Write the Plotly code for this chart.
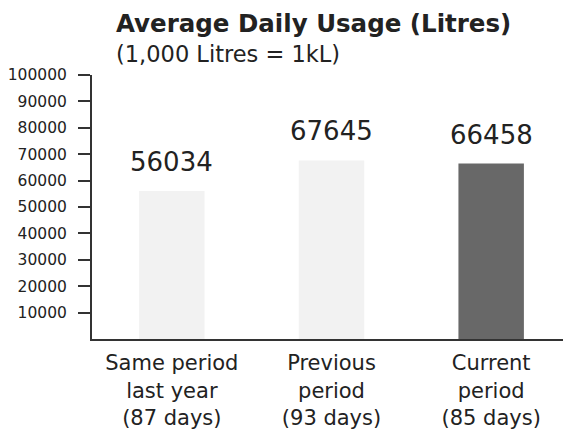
import plotly.graph_objects as go

categories = ["Same period<br>last year<br>(87 days)",
              "Previous<br>period<br>(93 days)",
              "Current<br>period<br>(85 days)"]
usage = [56034, 67645, 66458]
bar_colors = ["#f2f2f2", "#f2f2f2", "#686868"]
tick_vals = [10000, 20000, 30000, 40000, 50000, 60000, 70000, 80000, 90000, 100000]
tick_text = [str(v) for v in tick_vals]

fig = go.Figure()
fig.add_trace(go.Bar(x=categories, y=usage, marker=dict(color=bar_colors, line=dict(width=0)),
                     hoverinfo="skip"))

for c, v in zip(categories, usage):
    fig.add_annotation(x=c, y=v, text=str(v), showarrow=False, yanchor="bottom",
                       yshift=12, font=dict(family="DejaVu Sans", size=26, color="#222"))

fig.add_annotation(xref="paper", yref="paper", x=0.046, y=1.0, xanchor="left", yanchor="bottom",
                   yshift=35, text="<b>Average Daily Usage (Litres)</b>", showarrow=False,
                   font=dict(family="DejaVu Sans", size=24.5, color="#222"))
fig.add_annotation(xref="paper", yref="paper", x=0.046, y=1.0, xanchor="left", yanchor="bottom",
                   yshift=6, text="(1,000 Litres = 1kL)", showarrow=False,
                   font=dict(family="DejaVu Sans", size=22.5, color="#222"))

fig.update_layout(
    width=571, height=439,
    margin=dict(l=84, r=8, t=67, b=108, autoexpand=False),
    paper_bgcolor="white", plot_bgcolor="white",
    showlegend=False, bargap=0.59,
    font=dict(family="DejaVu Sans", color="#222"),
)
fig.update_xaxes(showline=True, linecolor="#333", linewidth=2, ticks="", showgrid=False,
                 automargin=False,
                 tickfont=dict(family="DejaVu Sans", size=21, color="#222"),
                 ticklabelstandoff=4)
fig.update_yaxes(range=[0, 100000], tickvals=tick_vals, ticktext=tick_text, showline=True,
                 linecolor="#333", linewidth=2, ticks="outside", ticklen=12, tickwidth=2,
                 tickcolor="#333", showgrid=False, zeroline=False, automargin=False,
                 tickfont=dict(family="DejaVu Sans", size=15.5, color="#222"),
                 ticklabelstandoff=8)

fig.write_html("out.html")
